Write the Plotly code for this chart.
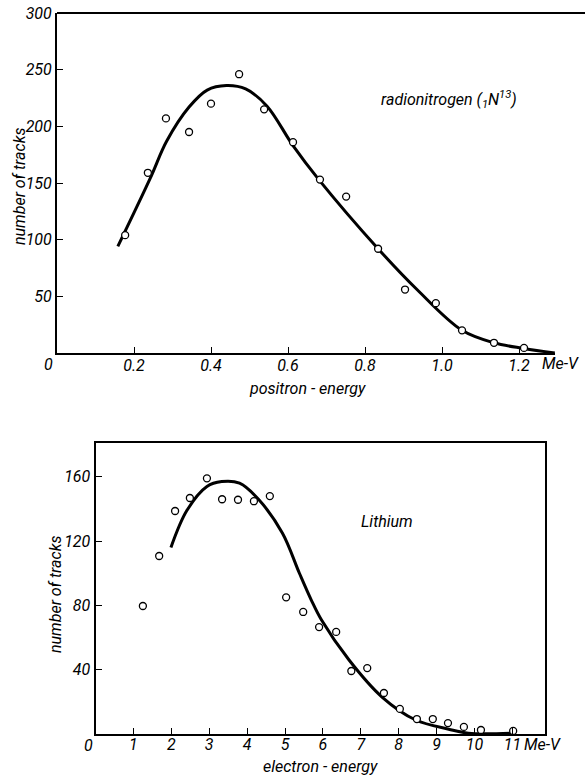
import plotly.graph_objects as go

# ---------------- data ----------------
# Top: radionitrogen positron spectrum
n_energy = [0.177, 0.236, 0.283, 0.343, 0.400, 0.473, 0.538, 0.613, 0.683, 0.751,
            0.834, 0.904, 0.984, 1.052, 1.135, 1.213]
n_tracks = [104, 159, 207, 195, 220, 246, 215, 186, 153, 138, 92, 56, 44, 20, 9, 4.5]
n_curve_x = [0.158, 0.242, 0.285, 0.343, 0.390, 0.440, 0.490, 0.545, 0.613,
             0.680, 0.834, 0.935, 1.052, 1.135, 1.213, 1.293]
n_curve_y = [94, 154, 187, 217, 232, 236, 233, 218, 183, 153, 92, 56, 20, 9, 4, 0]

# Bottom: lithium electron spectrum
li_energy = [1.25, 1.68, 2.10, 2.49, 2.94, 3.34, 3.76, 4.18, 4.60, 5.03, 5.48, 5.90,
             6.35, 6.75, 7.17, 7.61, 8.03, 8.48, 8.90, 9.30, 9.72, 10.17, 11.02]
li_tracks = [79.6, 110.7, 138.7, 146.8, 159, 146, 145.7, 144.8, 148, 85, 75.9, 66.5,
             63.5, 39.2, 41, 25.5, 15.6, 9.3, 9.3, 6.8, 4.4, 2.5, 1.9]
li_curve_x = [1.99, 2.41, 2.94, 3.33, 3.80, 4.30, 4.93, 5.38, 5.70, 5.96, 6.69, 7.56,
              8.45, 9.32, 9.84, 10.97]
li_curve_y = [116, 139, 154, 157, 156, 146, 125, 100, 83, 71, 46, 23, 8.7, 3, 0.5, 0.5]

top_xticks = [0.2, 0.4, 0.6, 0.8, 1.0, 1.2]
top_xlabels = ["0.2", "0.4", "0.6", "0.8", "1.0", "1.2"]
top_yticks = [50, 100, 150, 200, 250, 300]
bot_xticks = [1, 2, 3, 4, 5, 6, 7, 8, 9, 10, 11]
bot_yticks = [40, 80, 120, 160]

W, H = 587, 778
FONT = "Roboto, Liberation Sans, sans-serif"


def px(x):
    return x / W


def py(y):
    return 1 - y / H


fig = go.Figure()

# top curve + points
fig.add_trace(go.Scatter(x=n_curve_x, y=n_curve_y, mode="lines",
                         line=dict(color="black", width=3, shape="spline", smoothing=1.0),
                         xaxis="x", yaxis="y", cliponaxis=False, showlegend=False))
fig.add_trace(go.Scatter(x=n_energy, y=n_tracks, mode="markers",
                         marker=dict(symbol="circle", size=7, color="white",
                                     line=dict(color="black", width=1.3)),
                         xaxis="x", yaxis="y", cliponaxis=False, showlegend=False))
# bottom curve + points
fig.add_trace(go.Scatter(x=li_curve_x, y=li_curve_y, mode="lines",
                         line=dict(color="black", width=3, shape="spline", smoothing=1.0),
                         xaxis="x2", yaxis="y2", cliponaxis=False, showlegend=False))
fig.add_trace(go.Scatter(x=li_energy, y=li_tracks, mode="markers",
                         marker=dict(symbol="circle", size=7, color="white",
                                     line=dict(color="black", width=1.3)),
                         xaxis="x2", yaxis="y2", cliponaxis=False, showlegend=False))

tickfont = dict(family=FONT, size=16, color="black", style="italic")
axis_common = dict(showgrid=False, zeroline=False, showline=True, linecolor="black",
                   linewidth=2, ticks="inside", ticklen=6, tickwidth=1.3,
                   tickcolor="black", tickfont=tickfont, automargin=False)

fig.update_layout(
    width=W, height=H,
    margin=dict(l=0, r=0, t=0, b=0, pad=0, autoexpand=False),
    paper_bgcolor="white", plot_bgcolor="white",
    font=dict(family=FONT, size=16, color="black", style="italic"),
    xaxis=dict(domain=[px(57), px(555)], range=[0, (555 - 57) / 385], anchor="y",
               tickvals=top_xticks, ticktext=top_xlabels, ticklabelstandoff=-3,
               **axis_common),
    yaxis=dict(domain=[py(353), py(13)], range=[0, 300], anchor="x",
               tickvals=top_yticks, **axis_common),
    xaxis2=dict(domain=[px(95.5), px(545)], range=[0, (545 - 95.5) / 37.9], anchor="y2",
                tickvals=bot_xticks, mirror=True, ticklabelstandoff=-5, **axis_common),
    yaxis2=dict(domain=[py(734), py(443)], range=[0, 181], anchor="x2",
                tickvals=bot_yticks, mirror=True, **axis_common),
    shapes=[
        dict(type="line", xref="paper", yref="paper", x0=px(57), x1=px(585),
             y0=py(13), y1=py(13), line=dict(color="black", width=2)),
    ],
)

ann_font = dict(family=FONT, size=16, color="black", style="italic")
annotations = [
    dict(text="radionitrogen (<sub>1</sub>N<sup>13</sup>)", x=px(449), y=py(100)),
    dict(text="Lithium", x=px(387), y=py(521)),
    dict(text="positron - energy", x=px(307), y=py(388)),
    dict(text="electron - energy", x=px(320), y=py(766)),
    dict(text="number of tracks", x=px(19), y=py(186), textangle=-90),
    dict(text="number of tracks", x=px(55), y=py(594), textangle=-90),
    dict(text="Me-V", x=px(560), y=py(364)),
    dict(text="Me-V", x=px(542), y=py(744)),
    dict(text="0", x=px(48), y=py(365)),
    dict(text="0", x=px(88), y=py(745)),
]
for a in annotations:
    a.update(xref="paper", yref="paper", showarrow=False, font=ann_font,
             xanchor="center", yanchor="middle")
    fig.add_annotation(**a)

fig.write_html("out.html", config={"displayModeBar": False},
               post_script="document.body.style.margin='0';")
